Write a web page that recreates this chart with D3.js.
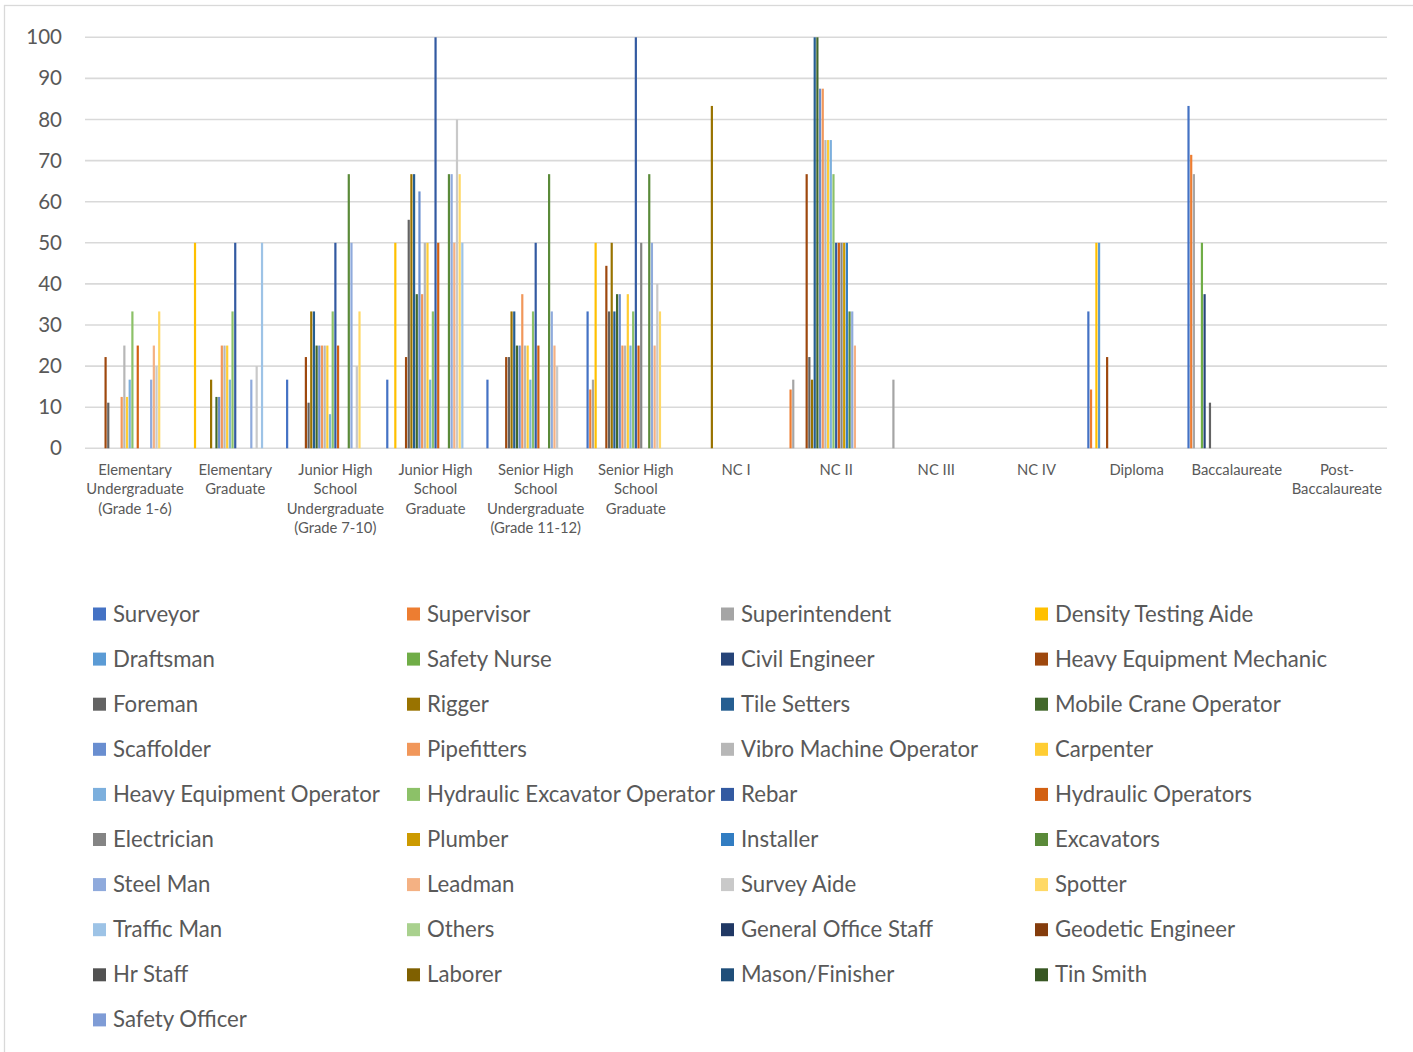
<!DOCTYPE html>
<html>
<head>
<meta charset="utf-8">
<script src="https://cdn.jsdelivr.net/npm/d3@7"></script>
<style>
  html, body { margin: 0; padding: 0; background: #fff; }
  svg { display: block; }
  text { font-family: Lato, "Open Sans", sans-serif; fill: #595959; }
</style>
</head>
<body>
<svg id="chart" width="1413" height="1052"></svg>
<script>
// Education levels (x categories); each entry is the list of label lines
const categories = [
  ["Elementary", "Undergraduate", "(Grade 1-6)"],
  ["Elementary", "Graduate"],
  ["Junior High", "School", "Undergraduate", "(Grade 7-10)"],
  ["Junior High", "School", "Graduate"],
  ["Senior High", "School", "Undergraduate", "(Grade 11-12)"],
  ["Senior High", "School", "Graduate"],
  ["NC I"],
  ["NC II"],
  ["NC III"],
  ["NC IV"],
  ["Diploma"],
  ["Baccalaureate"],
  ["Post-", "Baccalaureate"]
];

// Job positions (series), in legend order
const seriesNames = [
  "Surveyor", "Supervisor", "Superintendent", "Density Testing Aide",
  "Draftsman", "Safety Nurse", "Civil Engineer", "Heavy Equipment Mechanic",
  "Foreman", "Rigger", "Tile Setters", "Mobile Crane Operator",
  "Scaffolder", "Pipefitters", "Vibro Machine Operator", "Carpenter",
  "Heavy Equipment Operator", "Hydraulic Excavator Operator", "Rebar", "Hydraulic Operators",
  "Electrician", "Plumber", "Installer", "Excavators",
  "Steel Man", "Leadman", "Survey Aide", "Spotter",
  "Traffic Man", "Others", "General Office Staff", "Geodetic Engineer",
  "Hr Staff", "Laborer", "Mason/Finisher", "Tin Smith",
  "Safety Officer"
];

// Percent of each position per education level (one row per series, one column per category)
const seriesValues = [
  [0, 0, 16.7, 16.7, 16.7, 33.3, 0, 0, 0, 0, 33.3, 83.3, 0],   // Surveyor
  [0, 0, 0, 0, 0, 14.3, 0, 14.3, 0, 0, 14.3, 71.4, 0],         // Supervisor
  [0, 0, 0, 0, 0, 16.7, 0, 16.7, 16.7, 0, 0, 66.7, 0],         // Superintendent
  [0, 50, 0, 50, 0, 50, 0, 0, 0, 0, 50, 0, 0],                 // Density Testing Aide
  [0, 0, 0, 0, 0, 0, 0, 0, 0, 0, 50, 0, 0],                    // Draftsman
  [0, 0, 0, 0, 0, 0, 0, 0, 0, 0, 0, 50, 0],                    // Safety Nurse
  [0, 0, 0, 0, 0, 0, 0, 0, 0, 0, 0, 37.5, 0],                  // Civil Engineer
  [22.2, 0, 22.2, 22.2, 22.2, 44.4, 0, 66.7, 0, 0, 22.2, 0, 0], // Heavy Equipment Mechanic
  [11.1, 0, 11.1, 55.6, 22.2, 33.3, 0, 22.2, 0, 0, 0, 11.1, 0], // Foreman
  [0, 16.7, 33.3, 66.7, 33.3, 50, 83.3, 16.7, 0, 0, 0, 0, 0],  // Rigger
  [0, 0, 33.3, 66.7, 33.3, 33.3, 0, 100, 0, 0, 0, 0, 0],       // Tile Setters
  [0, 12.5, 25, 37.5, 25, 37.5, 0, 100, 0, 0, 0, 0, 0],        // Mobile Crane Operator
  [0, 12.5, 25, 62.5, 25, 37.5, 0, 87.5, 0, 0, 0, 0, 0],       // Scaffolder
  [12.5, 25, 25, 37.5, 37.5, 25, 0, 87.5, 0, 0, 0, 0, 0],      // Pipefitters
  [25, 25, 25, 50, 25, 25, 0, 75, 0, 0, 0, 0, 0],              // Vibro Machine Operator
  [12.5, 25, 25, 50, 25, 37.5, 0, 75, 0, 0, 0, 0, 0],          // Carpenter
  [16.7, 16.7, 8.3, 16.7, 16.7, 25, 0, 75, 0, 0, 0, 0, 0],     // Heavy Equipment Operator
  [33.3, 33.3, 33.3, 33.3, 33.3, 33.3, 0, 66.7, 0, 0, 0, 0, 0], // Hydraulic Excavator Operator
  [0, 50, 50, 100, 50, 100, 0, 50, 0, 0, 0, 0, 0],             // Rebar
  [25, 0, 25, 50, 25, 25, 0, 50, 0, 0, 0, 0, 0],               // Hydraulic Operators
  [0, 0, 0, 0, 0, 50, 0, 50, 0, 0, 0, 0, 0],                   // Electrician
  [0, 0, 0, 0, 0, 0, 0, 50, 0, 0, 0, 0, 0],                    // Plumber
  [0, 0, 0, 0, 0, 0, 0, 50, 0, 0, 0, 0, 0],                    // Installer
  [0, 0, 66.7, 66.7, 66.7, 66.7, 0, 33.3, 0, 0, 0, 0, 0],      // Excavators
  [16.7, 16.7, 50, 66.7, 33.3, 50, 0, 33.3, 0, 0, 0, 0, 0],    // Steel Man
  [25, 0, 0, 50, 25, 25, 0, 25, 0, 0, 0, 0, 0],                // Leadman
  [20, 20, 20, 80, 20, 40, 0, 0, 0, 0, 0, 0, 0],               // Survey Aide
  [33.3, 0, 33.3, 66.7, 0, 33.3, 0, 0, 0, 0, 0, 0, 0],         // Spotter
  [0, 50, 0, 50, 0, 0, 0, 0, 0, 0, 0, 0, 0],                   // Traffic Man
  [0, 0, 0, 0, 0, 0, 0, 0, 0, 0, 0, 0, 0],                     // Others
  [0, 0, 0, 0, 0, 0, 0, 0, 0, 0, 0, 0, 0],                     // General Office Staff
  [0, 0, 0, 0, 0, 0, 0, 0, 0, 0, 0, 0, 0],                     // Geodetic Engineer
  [0, 0, 0, 0, 0, 0, 0, 0, 0, 0, 0, 0, 0],                     // Hr Staff
  [0, 0, 0, 0, 0, 0, 0, 0, 0, 0, 0, 0, 0],                     // Laborer
  [0, 0, 0, 0, 0, 0, 0, 0, 0, 0, 0, 0, 0],                     // Mason/Finisher
  [0, 0, 0, 0, 0, 0, 0, 0, 0, 0, 0, 0, 0],                     // Tin Smith
  [0, 0, 0, 0, 0, 0, 0, 0, 0, 0, 0, 0, 0]                      // Safety Officer
];

// Y axis tick values
const yTicks = [0, 10, 20, 30, 40, 50, 60, 70, 80, 90, 100];

// Office-style series palette
const palette = [
  "#4472C4", "#ED7D31", "#A5A5A5", "#FFC000", "#5B9BD5", "#70AD47",
  "#264478", "#9E480E", "#636363", "#997300", "#255E91", "#43682B",
  "#698ED0", "#F1975A", "#B7B7B7", "#FFCD33", "#7CAFDD", "#8CC168",
  "#335AA1", "#D26012", "#848484", "#CC9A00", "#327DC2", "#5A8A39",
  "#8FAADC", "#F4B183", "#C9C9C9", "#FFD966", "#9DC3E6", "#A9D18E",
  "#203864", "#843C0C", "#525252", "#7F6000", "#1F4E79", "#385723",
  "#7F9CD6"
];

const svg = d3.select("#chart");
const plot = { left: 85, right: 1387, top: 37.3, bottom: 448.3 };

// chart area border
svg.append("rect")
  .attr("x", 4.5).attr("y", 5.5)
  .attr("width", 1430).attr("height", 1070)
  .attr("fill", "none").attr("stroke", "#D9D9D9").attr("stroke-width", 1.3);

const x0 = d3.scaleBand()
  .domain(d3.range(categories.length))
  .range([plot.left, plot.right])
  .paddingInner(0).paddingOuter(0);

const x1 = d3.scaleBand()
  .domain(d3.range(seriesNames.length))
  .range([0, x0.bandwidth()])
  .paddingInner(0.18).paddingOuter(0.27);

const y = d3.scaleLinear().domain([0, 100]).range([plot.bottom, plot.top]);

const color = d3.scaleOrdinal().domain(d3.range(seriesNames.length)).range(palette);

// gridlines
svg.append("g")
  .selectAll("line")
  .data(yTicks)
  .join("line")
  .attr("x1", plot.left).attr("x2", plot.right)
  .attr("y1", d => y(d)).attr("y2", d => y(d))
  .attr("stroke", "#D9D9D9").attr("stroke-width", 1.6);

// y axis labels
const yAxis = svg.append("g")
  .attr("transform", `translate(${plot.left - 23},0)`)
  .call(d3.axisLeft(y).tickValues(yTicks).tickSize(0).tickPadding(0).tickFormat(d3.format("d")));
yAxis.select(".domain").remove();
yAxis.selectAll("text")
  .attr("font-size", 20.5)
  .attr("fill", "#595959")
  .style("font-family", "Lato, sans-serif");

// bars
const groups = svg.append("g")
  .selectAll("g")
  .data(seriesNames.map((name, i) => ({ name, i, values: seriesValues[i] })))
  .join("g")
  .attr("fill", d => color(d.i));

groups.selectAll("rect")
  .data(d => d.values.map((v, c) => ({ v, c, s: d.i })).filter(e => e.v > 0))
  .join("rect")
  .attr("x", d => x0(d.c) + x1(d.s))
  .attr("width", x1.bandwidth())
  .attr("y", d => y(d.v))
  .attr("height", d => y(0) - y(d.v));

// category labels
const catG = svg.append("g");
categories.forEach((lines, c) => {
  const t = catG.append("text")
    .attr("x", x0(c) + x0.bandwidth() / 2)
    .attr("y", 475)
    .attr("text-anchor", "middle")
    .attr("font-size", 14.8);
  lines.forEach((ln, k) => {
    t.append("tspan")
      .attr("x", x0(c) + x0.bandwidth() / 2)
      .attr("y", 475 + k * 19.4)
      .text(ln);
  });
});

// legend
const legend = svg.append("g");
const colX = [93, 407, 721, 1035];
seriesNames.forEach((name, i) => {
  const col = i % 4, row = Math.floor(i / 4);
  const cy = 614 + row * 45.1;
  const g = legend.append("g").attr("transform", `translate(${colX[col]},${cy})`);
  g.append("rect").attr("x", 0).attr("y", -6.5).attr("width", 13).attr("height", 13).attr("fill", color(i));
  g.append("text").attr("x", 20).attr("y", 7.5).attr("font-size", 22.2).text(name);
});
</script>
</body>
</html>
